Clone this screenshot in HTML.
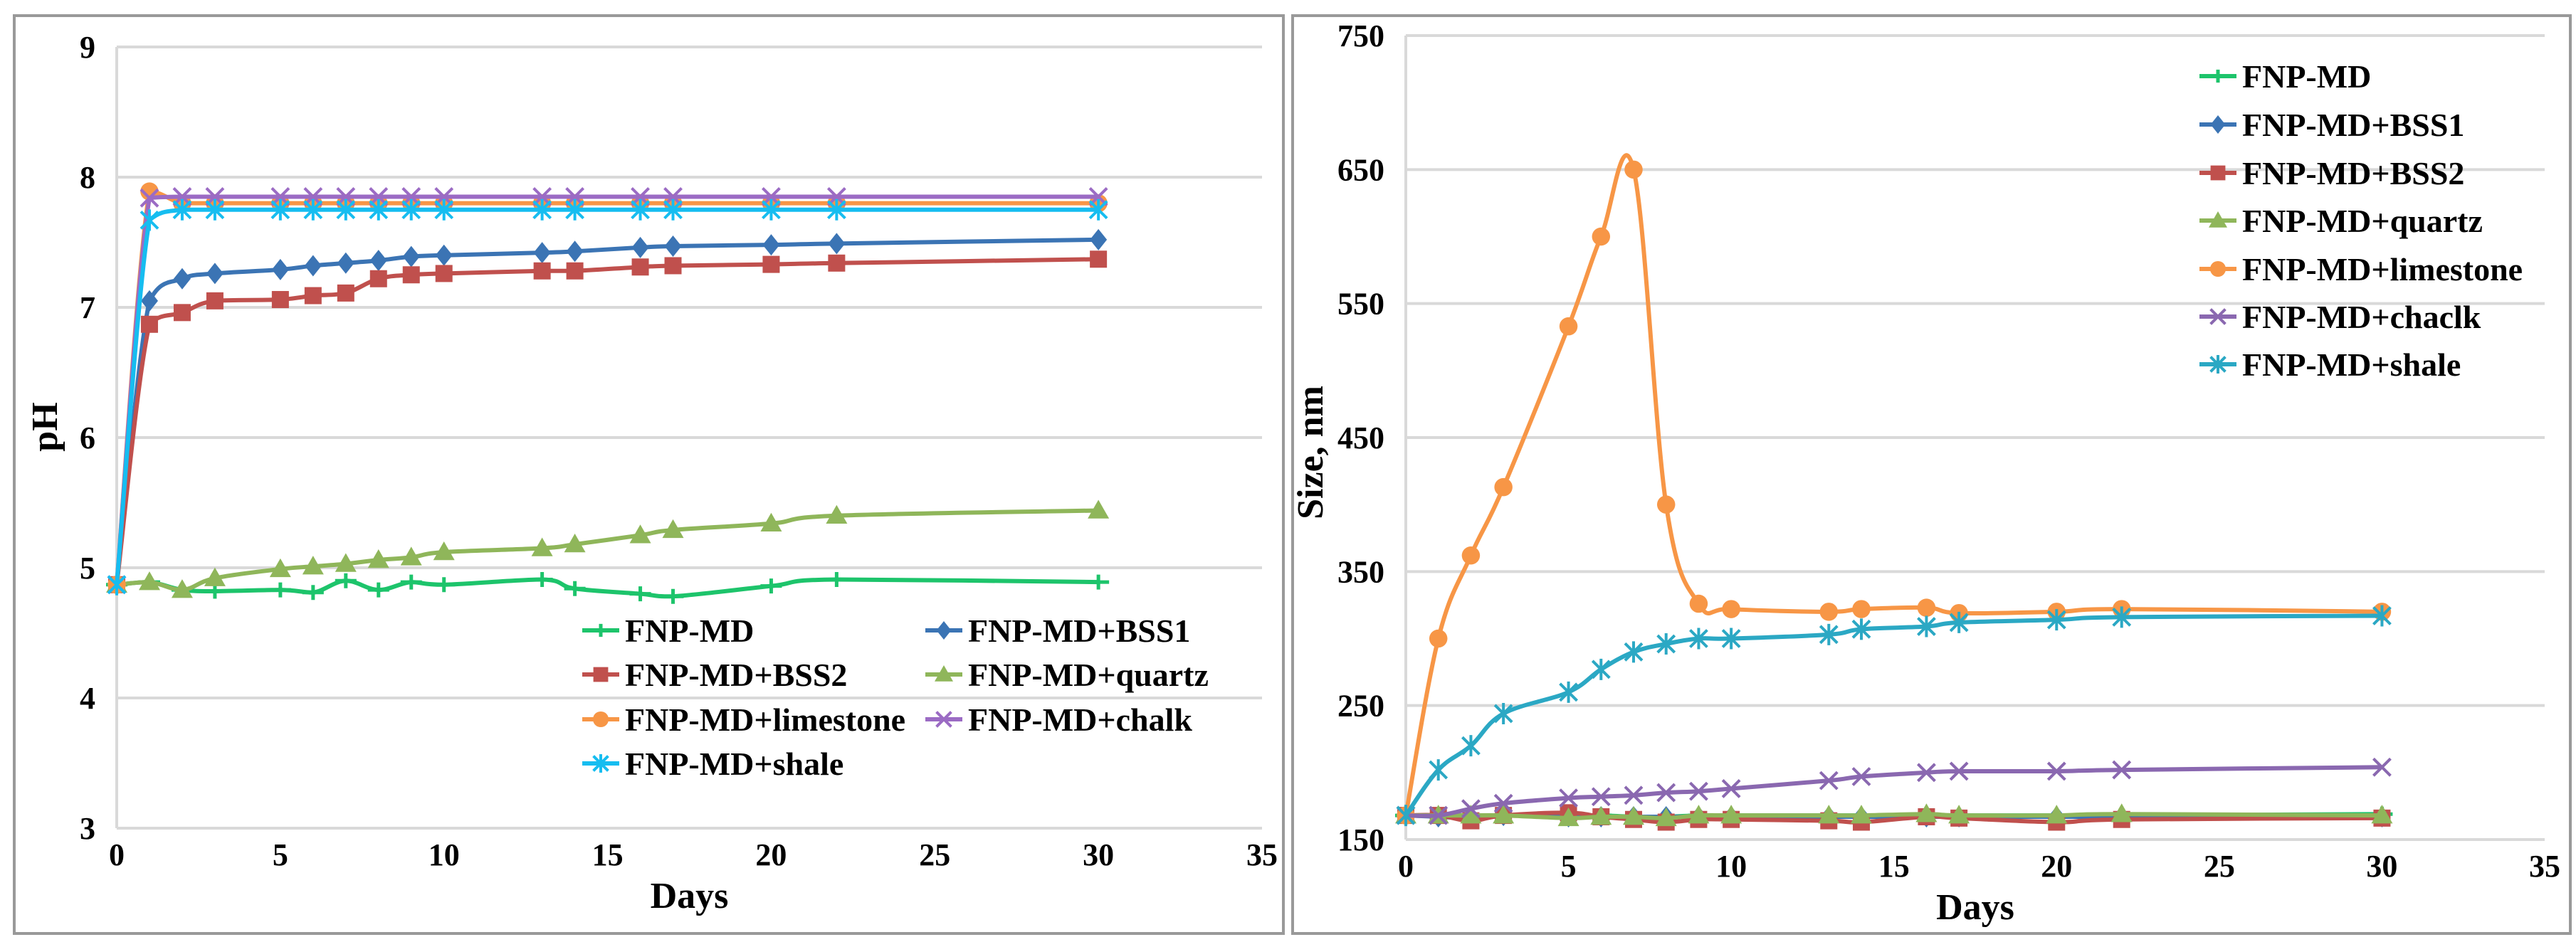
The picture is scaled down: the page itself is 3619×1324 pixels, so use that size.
<!DOCTYPE html>
<html><head><meta charset="utf-8"><style>
html,body{margin:0;padding:0;background:#fff;}
svg{display:block;font-family:"Liberation Serif",serif;font-weight:bold;}
</style></head><body>
<svg id="svg" width="3619" height="1324" viewBox="0 0 3619 1324" xmlns="http://www.w3.org/2000/svg">
<rect x="0" y="0" width="3619" height="1324" fill="#fff"/>
<rect x="20" y="22" width="1783" height="1290" fill="none" stroke="#999" stroke-width="4"/>
<rect x="1816" y="22" width="1795" height="1290" fill="none" stroke="#999" stroke-width="4"/>
<g id="left"></g>
<g id="right"></g>
</svg>
<script>
const days = [0,1,2,3,5,6,7,8,9,10,13,14,16,17,20,22,30];
const seriesNames = ["FNP-MD","FNP-MD+BSS1","FNP-MD+BSS2","FNP-MD+quartz","FNP-MD+limestone","FNP-MD+chalk","FNP-MD+shale"];
const sizeNames = ["FNP-MD","FNP-MD+BSS1","FNP-MD+BSS2","FNP-MD+quartz","FNP-MD+limestone","FNP-MD+chaclk","FNP-MD+shale"];
const phMD = [4.87,4.89,4.83,4.82,4.83,4.81,4.90,4.83,4.89,4.87,4.91,4.84,4.80,4.78,4.86,4.91,4.89];
const phBSS1 = [4.87,7.05,7.22,7.26,7.29,7.32,7.34,7.36,7.39,7.40,7.42,7.43,7.46,7.47,7.48,7.49,7.52];
const phBSS2 = [4.87,6.87,6.96,7.05,7.06,7.09,7.11,7.22,7.25,7.26,7.28,7.28,7.31,7.32,7.33,7.34,7.37];
const phQuartz = [4.87,4.89,4.83,4.92,4.99,5.01,5.03,5.06,5.08,5.12,5.15,5.18,5.25,5.29,5.34,5.40,5.44];
const phLimestone = [4.87,7.89,7.80,7.80,7.80,7.80,7.80,7.80,7.80,7.80,7.80,7.80,7.80,7.80,7.80,7.80,7.80];
const phChalk = [4.87,7.84,7.85,7.85,7.85,7.85,7.85,7.85,7.85,7.85,7.85,7.85,7.85,7.85,7.85,7.85,7.85];
const phShale = [4.87,7.67,7.75,7.75,7.75,7.75,7.75,7.75,7.75,7.75,7.75,7.75,7.75,7.75,7.75,7.75,7.75];
const szMD = [168,168,168,168,168,168,167,167,168,168,168,168,168,168,168,168,169];
const szBSS1 = [168,167,166,168,167,167,167,167,167,167,167,167,167,167,167,167,167];
const szBSS2 = [168,168,164,168,170,167,165,163,165,165,164,163,167,166,163,165,166];
const szQuartz = [168,168,168,168,166,167,167,166,168,168,168,168,169,168,168,169,168];
const szLimestone = [168,300,362,413,533,600,650,400,326,322,320,322,323,319,320,322,320];
const szChalk = [168,168,173,177,181,182,183,185,186,188,194,197,200,201,201,202,204];
const szShale = [168,202,220,244,260,277,290,296,300,300,303,307,309,312,314,316,317];
const xTicks = [0,5,10,15,20,25,30,35];
const phTicks = [3,4,5,6,7,8,9];
const sizeTicks = [150,250,350,450,550,650,750];

const NS="http://www.w3.org/2000/svg";
function mk(tag,attrs,parent){const e=document.createElementNS(NS,tag);for(const k in attrs)e.setAttribute(k,attrs[k]);parent.appendChild(e);return e;}
function smooth(pts,clamp){
  let d="M"+pts[0][0]+","+pts[0][1];
  const t=0.18;
  const cl=(v,a,b)=>Math.min(Math.max(v,Math.min(a,b)),Math.max(a,b));
  for(let i=0;i<pts.length-1;i++){
    const p0=pts[Math.max(0,i-1)],p1=pts[i],p2=pts[i+1],p3=pts[Math.min(pts.length-1,i+2)];
    const c1=[p1[0]+(p2[0]-p0[0])*t,p1[1]+(p2[1]-p0[1])*t];
    const c2=[p2[0]-(p3[0]-p1[0])*t,p2[1]-(p3[1]-p1[1])*t];
    if(clamp){c1[1]=cl(c1[1],p1[1],p2[1]);c2[1]=cl(c2[1],p1[1],p2[1]);}
    d+=" C"+c1[0]+","+c1[1]+" "+c2[0]+","+c2[1]+" "+p2[0]+","+p2[1];
  }
  return d;
}
function marker(g,type,x,y,c,s){
  let e;
  if(type==="plus"){e=mk("path",{d:`M${x-s},${y}H${x+s}M${x},${y-s*0.7}V${y+s*0.7}`,stroke:c,"stroke-width":5,fill:"none"},g);}
  else if(type==="diamond"){e=mk("path",{d:`M${x},${y-s}L${x+s*0.8},${y}L${x},${y+s}L${x-s*0.8},${y}Z`,fill:c},g);}
  else if(type==="square"){e=mk("rect",{x:x-s*0.8,y:y-s*0.8,width:s*1.6,height:s*1.6,fill:c},g);}
  else if(type==="tri"){e=mk("path",{d:`M${x},${y-s}L${x+s},${y+s*0.75}L${x-s},${y+s*0.75}Z`,fill:c},g);}
  else if(type==="circle"){e=mk("circle",{cx:x,cy:y,r:s*0.85,fill:c},g);}
  else if(type==="x"){e=mk("path",{d:`M${x-s*0.8},${y-s*0.8}L${x+s*0.8},${y+s*0.8}M${x+s*0.8},${y-s*0.8}L${x-s*0.8},${y+s*0.8}`,stroke:c,"stroke-width":4,fill:"none"},g);}
  else {e=mk("path",{d:`M${x-s*0.8},${y-s*0.8}L${x+s*0.8},${y+s*0.8}M${x+s*0.8},${y-s*0.8}L${x-s*0.8},${y+s*0.8}M${x},${y-s}V${y+s}`,stroke:c,"stroke-width":4,fill:"none"},g);}
  
  
}
function chart(cfg){
  const g=document.getElementById(cfg.id);
  const X=d=>cfg.x0+(d-0)/35*(cfg.x1-cfg.x0);
  const Y=v=>cfg.yb+(v-cfg.ymin)/(cfg.ymax-cfg.ymin)*(cfg.yt-cfg.yb);
  cfg.yTicks.forEach(v=>{
    const l=mk("line",{x1:cfg.x0,x2:cfg.x1,y1:Y(v),y2:Y(v),stroke:"#d9d9d9","stroke-width":4},g);
    
    
    const t=mk("text",{x:cfg.x0-30,y:Y(v)+15,"text-anchor":"end","font-size":44},g);t.textContent=v;
    
    
  });
  const ax=mk("line",{x1:cfg.x0,x2:cfg.x0,y1:cfg.yt,y2:cfg.yb,stroke:"#d9d9d9","stroke-width":4},g);
  
  
  xTicks.forEach(d=>{
    const t=mk("text",{x:X(d),y:cfg.yb+52,"text-anchor":"middle","font-size":44},g);t.textContent=d;
    
    
  });
  const xt=mk("text",{x:(cfg.x0+cfg.x1)/2,y:cfg.yb+112,"text-anchor":"middle","font-size":52},g);xt.textContent="Days";
  
  
  const yt=mk("text",{x:0,y:0,"text-anchor":"middle","font-size":52,transform:`translate(${cfg.ytx},${cfg.yty}) rotate(-90)`},g);yt.textContent=cfg.ytitle;
  
  
  cfg.series.forEach((s,i)=>{
    const sg=mk("g",{},g);
    
    
    const pts=days.map((d,j)=>[X(d),Y(s.vals[j])]);
    mk("path",{d:smooth(pts,cfg.clamp),fill:"none",stroke:s.c,"stroke-width":6},sg);
    pts.forEach(p=>marker(sg,s.m,p[0],p[1],s.c,15));
    const lx=cfg.legend[i][0],ly=cfg.legend[i][1];
    const lg=mk("g",{},g);
    
    
    mk("line",{x1:lx,x2:lx+52,y1:ly,y2:ly,stroke:s.c,"stroke-width":6},lg);
    marker(lg,s.m,lx+26,ly,s.c,13);
    const t=mk("text",{x:lx+60,y:ly+16,"font-size":46},lg);t.textContent=s.name;
  });
}
chart({id:"left",clamp:true,x0:164,x1:1773,yt:66,yb:1164,ymin:3,ymax:9,yTicks:phTicks,ytitle:"pH",ytx:80,yty:600,
  series:[
    {name:seriesNames[0],vals:phMD,c:"#1dc46b",m:"plus"},
    {name:seriesNames[1],vals:phBSS1,c:"#3b74b4",m:"diamond"},
    {name:seriesNames[2],vals:phBSS2,c:"#c0504d",m:"square"},
    {name:seriesNames[3],vals:phQuartz,c:"#8fb65a",m:"tri"},
    {name:seriesNames[4],vals:phLimestone,c:"#f79646",m:"circle"},
    {name:seriesNames[5],vals:phChalk,c:"#9b6bc4",m:"x"},
    {name:seriesNames[6],vals:phShale,c:"#16bdf0",m:"star"}],
  legend:[[818,886],[1300,886],[818,948],[1300,948],[818,1011],[1300,1011],[818,1073]]});
chart({id:"right",clamp:false,x0:1975,x1:3575,yt:50,yb:1180,ymin:150,ymax:750,yTicks:sizeTicks,ytitle:"Size, nm",ytx:1858,yty:636,
  series:[
    {name:sizeNames[0],vals:szMD,c:"#1dc46b",m:"plus"},
    {name:sizeNames[1],vals:szBSS1,c:"#3b74b4",m:"diamond"},
    {name:sizeNames[2],vals:szBSS2,c:"#c0504d",m:"square"},
    {name:sizeNames[3],vals:szQuartz,c:"#8fb65a",m:"tri"},
    {name:sizeNames[4],vals:szLimestone,c:"#f79646",m:"circle"},
    {name:sizeNames[5],vals:szChalk,c:"#8a68b0",m:"x"},
    {name:sizeNames[6],vals:szShale,c:"#2ba8c4",m:"star"}],
  legend:[[3090,107],[3090,175],[3090,243],[3090,310],[3090,378],[3090,445],[3090,512]]});
</script>
</body></html>
